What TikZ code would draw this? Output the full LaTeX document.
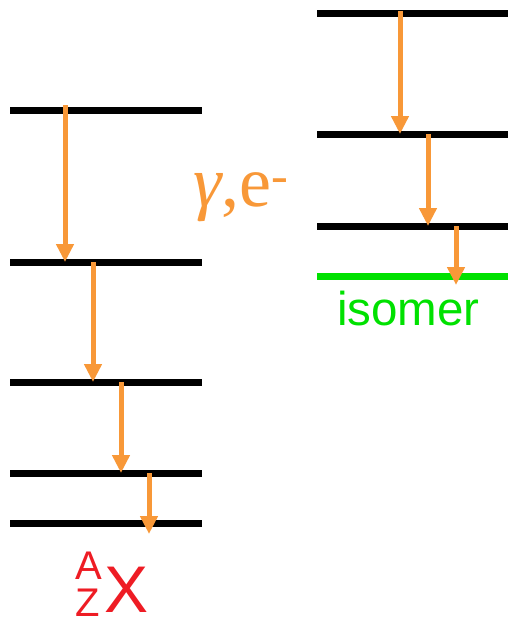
\documentclass[tikz,border=0pt]{standalone}
\usepackage{fontspec}
\setmainfont{Liberation Serif}
\newfontfamily\arialf{Liberation Sans}
\usetikzlibrary{arrows.meta}
\definecolor{arr}{RGB}{248,152,56}
\definecolor{isog}{RGB}{0,225,0}
\definecolor{nucred}{RGB}{238,28,36}
\begin{document}
\begin{tikzpicture}[x=1pt,y=-1pt,
  level/.style={line width=7pt},
  isolevel/.style={line width=7pt,draw=isog},
  trans/.style={draw=arr,line width=5pt,-{Triangle[width=17pt,length=18pt]}}]
\useasboundingbox (0,0) rectangle (509,626);
% left scheme levels
\draw[level] (10,110) -- (202,110);
\draw[level] (10,262) -- (202,262);
\draw[level] (10,382) -- (202,382);
\draw[level] (10,473) -- (202,473);
\draw[level] (10,523) -- (202,523);
% right scheme levels
\draw[level] (317,14) -- (508,14);
\draw[level] (317,134) -- (508,134);
\draw[level] (317,226) -- (508,226);
\draw[isolevel] (317,276) -- (508,276);
% arrow end points
\coordinate (l1s) at (65,105);  \coordinate (l1e) at (65,262);
\coordinate (l2s) at (93,262);  \coordinate (l2e) at (93,382);
\coordinate (l3s) at (121,382); \coordinate (l3e) at (121,473);
\coordinate (l4s) at (149,473); \coordinate (l4e) at (149,534);
\coordinate (r1s) at (400,11);  \coordinate (r1e) at (400,134);
\coordinate (r2s) at (428,134); \coordinate (r2e) at (428,226);
\coordinate (r3s) at (456,226); \coordinate (r3e) at (456,285);
\draw[trans] (l1s) -- (l1e);
\draw[trans] (l2s) -- (l2e);
\draw[trans] (l3s) -- (l3e);
\draw[trans] (l4s) -- (l4e);
\draw[trans] (r1s) -- (r1e);
\draw[trans] (r2s) -- (r2e);
\draw[trans] (r3s) -- (r3e);
% labels
\node[anchor=base west,inner sep=0pt,text=arr,font=\fontsize{72}{72}\selectfont] (ge) at (193,206) {\textit{γ},e\raisebox{4pt}{\textsuperscript{-}}};
\node[anchor=base west,inner sep=0pt,text=isog,font=\arialf\fontsize{47.5}{47.5}\selectfont] (iso) at (337,325) {isomer};
\node[anchor=base west,inner sep=0pt,text=nucred,font=\arialf\fontsize{66}{66}\selectfont] (X) at (104,612) {X};
\node[anchor=base west,inner sep=0pt,text=nucred,font=\arialf\fontsize{40}{40}\selectfont] (A) at (75,579) {A};
\node[anchor=base west,inner sep=0pt,text=nucred,font=\arialf\fontsize{40}{40}\selectfont] (Z) at (75,616) {Z};
\end{tikzpicture}
\end{document}
